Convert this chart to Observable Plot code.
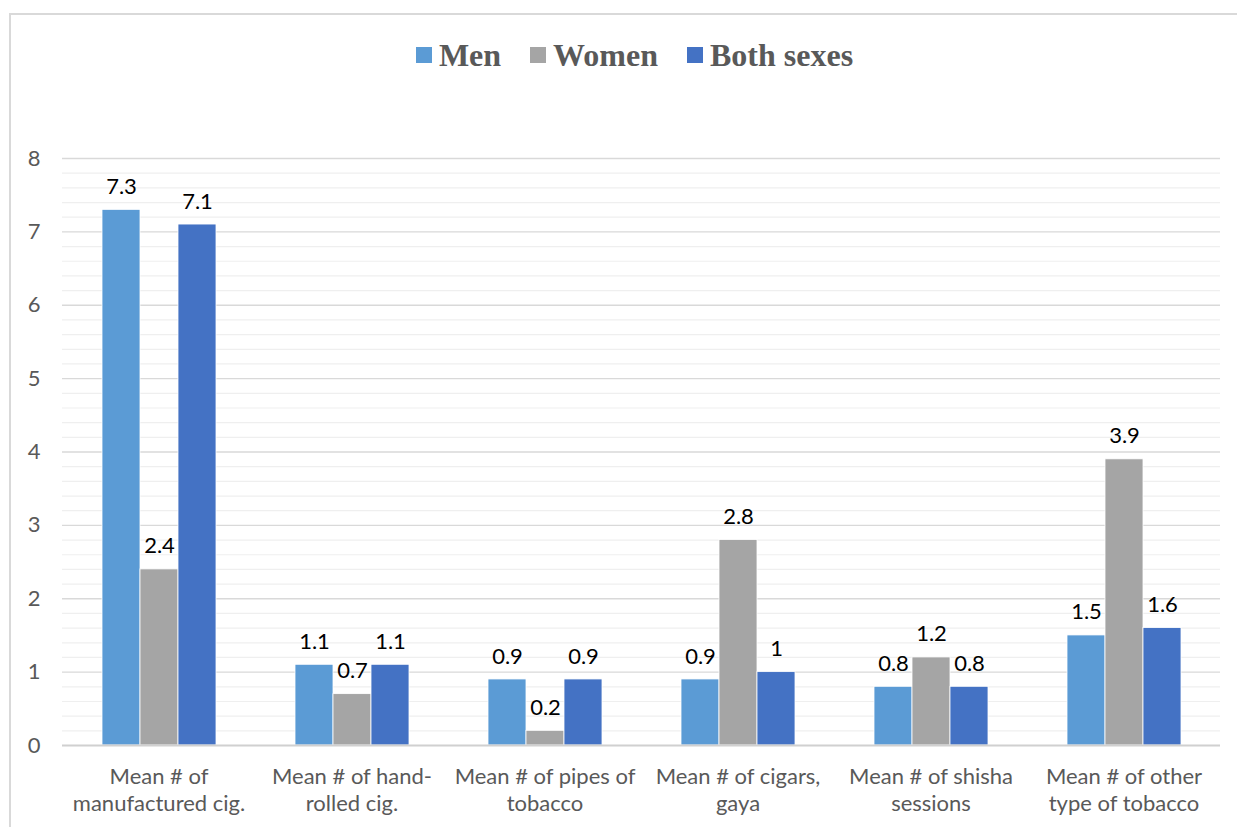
<!DOCTYPE html>
<html>
<head>
<meta charset="utf-8">
<script src="https://cdn.jsdelivr.net/npm/d3@7"></script>
<script src="https://cdn.jsdelivr.net/npm/@observablehq/plot@0.6"></script>
<style>
  html, body { margin: 0; padding: 0; background: #fff; }
  #wrap { position: relative; width: 1237px; height: 827px; overflow: hidden; }
  #frame { position: absolute; left: 9px; top: 13px; width: 1300px; height: 900px;
           border-left: 2px solid #d9d9d9; border-top: 2px solid #d9d9d9; box-sizing: border-box; }
  #legend { position: absolute; left: 0; top: 0; width: 1237px; height: 100px;
            display: flex; justify-content: center; align-items: center; gap: 0;
            font-family: "Liberation Serif", "Times New Roman", serif; font-weight: bold;
            font-size: 32px; color: #595959; padding-left: 32px; box-sizing: border-box; padding-top: 10px; }
  .item { display: flex; align-items: center; margin: 0 14.5px; }
  .sw { width: 16px; height: 16px; margin-right: 7px; }
  #chart { position: absolute; left: 0; top: 100px; }
</style>
</head>
<body>
<div id="wrap">
  <div id="frame"></div>
  <div id="legend"></div>
  <div id="chart"></div>
</div>
<script>
const categories = [
  "Mean # of\nmanufactured cig.",
  "Mean # of hand-\nrolled cig.",
  "Mean # of pipes of\ntobacco",
  "Mean # of cigars,\ngaya",
  "Mean # of shisha\nsessions",
  "Mean # of other\ntype of tobacco"
];
const seriesNames = ["Men", "Women", "Both sexes"];
const seriesColors = ["#5B9BD5", "#A5A5A5", "#4472C4"];
const men = [7.3, 1.1, 0.9, 0.9, 0.8, 1.5];
const women = [2.4, 0.7, 0.2, 2.8, 1.2, 3.9];
const both = [7.1, 1.1, 0.9, 1.0, 0.8, 1.6];
const yMajorTicks = [0, 1, 2, 3, 4, 5, 6, 7, 8];
const yMinorTicks = [0.2,0.4,0.6,0.8,1.2,1.4,1.6,1.8,2.2,2.4,2.6,2.8,3.2,3.4,3.6,3.8,4.2,4.4,4.6,4.8,5.2,5.4,5.6,5.8,6.2,6.4,6.6,6.8,7.2,7.4,7.6,7.8];

const seriesValues = [men, women, both];
const rows = [];
categories.forEach((c, i) => {
  seriesNames.forEach((s, j) => {
    rows.push({category: c, series: s, value: seriesValues[j][i]});
  });
});

// Legend
const legend = document.getElementById("legend");
seriesNames.forEach((s, j) => {
  const it = document.createElement("div");
  it.className = "item";
  const sw = document.createElement("div");
  sw.className = "sw";
  sw.style.background = seriesColors[j];
  const t = document.createElement("span");
  t.textContent = s;
  it.appendChild(sw); it.appendChild(t);
  legend.appendChild(it);
});

const font = "Lato, 'Open Sans', sans-serif";
const chart = Plot.plot({
  width: 1237,
  height: 727,
  marginTop: 58,
  marginBottom: 82,
  marginLeft: 61,
  marginRight: 17,
  style: {fontFamily: font, background: "transparent"},
  fx: {domain: categories, padding: 0, axis: null},
  x: {domain: seriesNames, paddingInner: 0, paddingOuter: 1, axis: null},
  y: {domain: [0, 8], axis: null},
  color: {domain: seriesNames, range: seriesColors},
  marks: [
    Plot.ruleY(yMinorTicks, {stroke: "#efefef", strokeWidth: 1.2}),
    Plot.ruleY(yMajorTicks.filter(d => d > 0), {stroke: "#d9d9d9", strokeWidth: 1.3}),
    Plot.barY(rows, {fx: "category", x: "series", y: "value", fill: "series", stroke: "white", strokeWidth: 0.8}),
    Plot.ruleY([0], {stroke: "#d0d0d0", strokeWidth: 2}),
    Plot.text(rows, {fx: "category", x: "series", y: "value", text: d => String(d.value), dy: -23, fontSize: 22, fill: "#000"}),
    Plot.axisY(yMajorTicks, {tickSize: 0, tickPadding: 22, fontSize: 22, fill: "#595959", tickFormat: d => String(d), label: null}),
    Plot.axisFx({anchor: "bottom", tickSize: 0, tickPadding: 20, fontSize: 22, lineHeight: 1.2, fill: "#595959", label: null, lineAnchor: "top"})
  ]
});
document.getElementById("chart").appendChild(chart);
</script>
</body>
</html>
